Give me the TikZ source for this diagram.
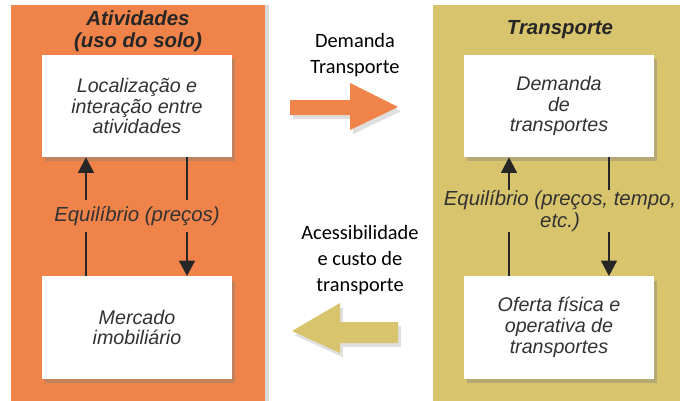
\documentclass[tikz,border=0pt]{standalone}
\usepackage{fontspec}
\setmainfont{Liberation Sans}
\newfontfamily\calibrifont{Carlito}
\usetikzlibrary{arrows.meta,shadows,positioning}
\definecolor{laranja}{RGB}{239,131,74}
\definecolor{oliva}{RGB}{216,196,108}
\definecolor{texto}{RGB}{50,50,50}

\begin{document}
\begin{tikzpicture}[x=0.025cm, y=-0.025cm,
    painel/.style={fill=#1, drop shadow={shadow xshift=3pt, shadow yshift=0pt, opacity=0.3}},
    caixa/.style={fill=white, minimum width=4.75cm, minimum height=2.55cm, align=center,
      text=texto, font=\fontsize{14}{14.8}\selectfont\itshape,
      drop shadow={shadow xshift=2pt, shadow yshift=-3pt, opacity=0.4}},
    titulo/.style={align=center, text=black!85, font=\fontsize{14.5}{16}\selectfont\bfseries\itshape},
    rotulo/.style={align=center, text=texto, inner sep=0pt, font=\fontsize{14.5}{15.5}\selectfont\itshape},
    meio/.style={align=center, font=\fontsize{14.5}{18.5}\selectfont\calibrifont},
    fio/.style={line width=1.8pt, black!85},
    seta/.style={fio, -{Triangle[length=11pt, width=11pt]}},
    blocoseta/.style={fill=#1, drop shadow={shadow xshift=2pt, shadow yshift=-3pt, opacity=0.25}}
  ]
    \useasboundingbox (0,0) rectangle (680,401);

    % Draw the two panels
    \fill[painel=laranja] (11,5) rectangle (265,401);
    \fill[painel=oliva] (433,5) rectangle (680,401);

    % Panel titles
    \node[titulo] (tituloA) at (138,31) {Atividades\\(uso do solo)};
    \node[titulo] (tituloT) at (560,30) {Transporte};

    % Boxes of the left panel
    \node[caixa] (localiza) at (137,106) {Localização e\\interação entre\\atividades};
    \node[caixa] (mercado) at (137,327.5) {Mercado\\imobiliário};

    % Boxes of the right panel
    \node[caixa] (demanda) at (559,106) {Demanda\\de\\transportes};
    \node[caixa] (oferta) at (559,327.5) {Oferta física e\\operativa de\\transportes};

    % Equilibrium labels
    \node[rotulo, minimum height=0.8cm] (eqA) at (137,216) {Equilíbrio (preços)};
    \node[rotulo, minimum height=1.05cm] (eqT) at (560,211) {Equilíbrio (preços, tempo,\\etc.)};

    % Vertical arrows, left panel
    \path (86,0) coordinate (xa) (187,0) coordinate (xb);
    \draw[fio] (xa |- mercado.north) -- (xa |- eqA.south);
    \draw[seta] (xa |- eqA.north) -- (xa |- localiza.south);
    \draw[fio] (xb |- localiza.south) -- (xb |- eqA.north);
    \draw[seta] (xb |- eqA.south) -- (xb |- mercado.north);

    % Vertical arrows, right panel
    \path (509,0) coordinate (xc) (609,0) coordinate (xd);
    \draw[fio] (xc |- oferta.north) -- (xc |- eqT.south);
    \draw[seta] (xc |- eqT.north) -- (xc |- demanda.south);
    \draw[fio] (xd |- demanda.south) -- (xd |- eqT.north);
    \draw[seta] (xd |- eqT.south) -- (xd |- oferta.north);

    % Flows between the panels
    \node[meio] (fluxoD) at (355,55) {Demanda\\Transporte};
    \node[meio] (fluxoA) at (360,260) {Acessibilidade\\e custo de\\transporte};

    % Block arrows
    \fill[blocoseta=laranja] (290,100) -- (350,100) -- (350,83) -- (398,107)
      -- (350,130) -- (350,115) -- (290,115) -- cycle;
    \fill[blocoseta=oliva] (398,322) -- (340,322) -- (340,303) -- (292,331)
      -- (340,353) -- (340,343) -- (398,343) -- cycle;
  \end{tikzpicture}
\end{document}
